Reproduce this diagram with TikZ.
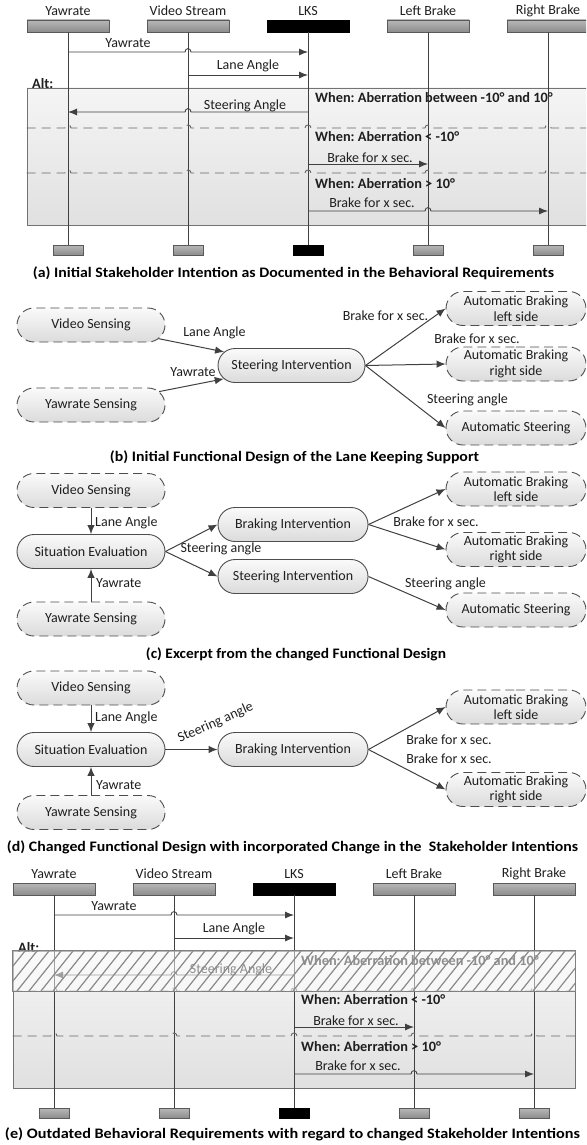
\documentclass[tikz,border=0pt]{standalone}
\usepackage{fontspec}
\setmainfont{Carlito}
\frenchspacing
\usetikzlibrary{arrows.meta,shapes.misc}

\definecolor{ink}{HTML}{1F1F1F}
\definecolor{wire}{HTML}{404040}
\definecolor{edge}{HTML}{4D4D4D}

% caption set to a given width
\newcommand\capline[2]{\resizebox{#1}{\height}{#2}}

% sequence diagram: actors, alt frame with three cases, messages
\newcommand\seqdiagram[1]{%
  \node[altbox, minimum width=562pt, minimum height=137pt] (#1alt) at (308,156.5) {};
  \node[boldtxt, anchor=base west] (#1altlab) at (32,89) {Alt:};
  \foreach \i/\x/\lab/\sty in {1/68/Yawrate/hdr,2/188/Video Stream/hdr,3/308/LKS/hdrk,4/428/Left Brake/hdr,5/548/Right Brake/hdr}{%
    \node[\sty] (#1hd\i) at (\x,26) {};
    \node[txt] (#1lb\i) at (\x,11) {\lab};
    \node[\sty, minimum width=30pt, minimum height=10pt] (#1ft\i) at (\x,250) {};
    \draw[life] (#1hd\i) -- (#1ft\i);
  }
  % messages
  \draw[msg] (#1hd1.south |- 0,52) -- (185,52) .. controls (185,47.5) and (191,47.5) .. (191,52) -- (#1hd3.south |- 0,52);
  \node[txt] (#1m1) at (128,43) {Yawrate};
  \draw[msg] (#1hd2.south |- 0,75) -- (#1hd3.south |- 0,75);
  \node[txt] (#1m2) at (248,66) {Lane Angle};
  \draw[msg] (#1hd3.south |- 0,112) -- (191,112) .. controls (191,107.5) and (185,107.5) .. (185,112) -- (#1hd1.south |- 0,112);
  \node[txt, anchor=base] (#1m3) at (245,110) {Steering Angle};
  \node[boldtxt, anchor=west] (#1c1) at (315,98) {When: Aberration between -10° and 10°};
  % case separators
  \foreach \yy in {128,173}{%
    \draw[sep] (#1alt.west |- 0,\yy) \foreach \h in {68,188,308,428,548}{ -- (\h-3,\yy) .. controls (\h-3,\yy-4) and (\h+3,\yy-4) .. (\h+3,\yy)} -- (#1alt.east |- 0,\yy);
  }
  \node[boldtxt, anchor=west] (#1c2) at (315,137) {When: Aberration < -10°};
  \draw[msg] (#1hd3.south |- 0,164) -- (#1hd4.south |- 0,164);
  \node[txt] (#1m4) at (370,158) {Brake for x sec.};
  \node[boldtxt, anchor=west] (#1c3) at (315,184) {When: Aberration > 10°};
  \draw[msg] (#1hd3.south |- 0,211) -- (425,211) .. controls (425,206.5) and (431,206.5) .. (431,211) -- (#1hd5.south |- 0,211);
  \node[txt] (#1m5) at (372,203) {Brake for x sec.};
}

\begin{document}
\begin{tikzpicture}[x=1pt, y=-1pt,
  font=\fontsize{14}{15.5}\selectfont, text=ink,
  txt/.style={inner sep=0pt},
  boldtxt/.style={inner sep=0pt, font=\fontsize{14.3}{15.5}\selectfont\bfseries},
  captxt/.style={inner sep=0pt, font=\fontsize{14.5}{16}\selectfont\bfseries, text=black},
  hdr/.style={rectangle, draw=black!65, top color=black!28, bottom color=black!45, minimum width=82pt, minimum height=12pt, inner sep=0pt, line width=0.8pt},
  hdrk/.style={rectangle, draw=black, fill=black, minimum width=82pt, minimum height=12pt, inner sep=0pt},
  altbox/.style={rectangle, draw=black!55, top color=black!4, bottom color=black!12, line width=0.9pt, inner sep=0pt},
  life/.style={draw=wire, line width=0.9pt},
  msg/.style={draw=wire, line width=0.9pt, -{Latex[length=9pt,width=7pt]}},
  arr/.style={draw=wire, line width=1pt, -{Latex[length=9pt,width=7.5pt]}},
  sep/.style={draw=black!60, line width=0.9pt, dash pattern=on 9pt off 6pt},
  fbox/.style={rounded rectangle, rounded rectangle arc length=180, draw=edge, top color=black!2, bottom color=black!14, minimum height=34pt, inner sep=0pt, line width=0.9pt},
  dbox/.style={fbox, dash pattern=on 9pt off 5pt},
  intxt/.style={align=center, inner sep=0pt, font=\fontsize{14}{15.5}\selectfont},
  hatch/.style={draw=black!45, line width=1.2pt}
]
\useasboundingbox (0,0) rectangle (586,1145);
\clip (0,0) rectangle (586,1145);

% ---------- (a) behavioural requirements ----------
\seqdiagram{a}
\node[captxt] (capa) at (293.5,273) {\capline{521pt}{(a) Initial Stakeholder Intention as Documented in the Behavioral Requirements}};

% ---------- (b) initial functional design ----------
\node[dbox, minimum width=148pt, label={[intxt]center:Video Sensing}] (bVS) at (91,325) {};
\node[dbox, minimum width=148pt, label={[intxt]center:Yawrate Sensing}] (bYS) at (91,405) {};
\node[fbox, minimum width=147pt, label={[intxt]center:Steering Intervention}] (bSI) at (291.5,365.5) {};
\node[dbox, minimum width=140pt, label={[intxt]center:Automatic Braking\\left side}] (bABL) at (516,308.5) {};
\node[dbox, minimum width=140pt, label={[intxt]center:Automatic Braking\\right side}] (bABR) at (516,364) {};
\node[dbox, minimum width=140pt, label={[intxt]center:Automatic Steering}] (bAS) at (516,428) {};
\draw[arr] (bVS) -- (bSI);
\draw[arr] (bYS) -- (bSI);
\draw[arr] (bSI.east) -- (bABL.west);
\draw[arr] (bSI.east) -- (bABR.west);
\draw[arr] (bSI.east) -- (bAS.west);
\node[txt] (bLA) at (214.5,333) {Lane Angle};
\node[txt] (bYW) at (193,372) {Yawrate};
\node[txt] (bBR1) at (385.5,316) {Brake for x sec.};
\node[txt] (bBR2) at (477,339) {Brake for x sec.};
\node[txt] (bSA) at (467.5,400) {Steering angle};
\node[captxt] (capb) at (294.5,457) {\capline{369pt}{(b) Initial Functional Design of the Lane Keeping Support}};

% ---------- (c) changed functional design ----------
\node[dbox, minimum width=148pt, label={[intxt]center:Video Sensing}] (cVS) at (91,490.5) {};
\node[fbox, minimum width=148pt, label={[intxt]center:Situation Evaluation}] (cSE) at (91,551.5) {};
\node[dbox, minimum width=148pt, label={[intxt]center:Yawrate Sensing}] (cYS) at (91,619) {};
\node[fbox, minimum width=150pt, label={[intxt]center:Braking Intervention}] (cBI) at (293,524.5) {};
\node[fbox, minimum width=150pt, label={[intxt]center:Steering Intervention}] (cSI) at (293,576.5) {};
\node[dbox, minimum width=140pt, label={[intxt]center:Automatic Braking\\left side}] (cABL) at (516,489) {};
\node[dbox, minimum width=140pt, label={[intxt]center:Automatic Braking\\right side}] (cABR) at (516,549.5) {};
\node[dbox, minimum width=140pt, label={[intxt]center:Automatic Steering}] (cAS) at (516,610) {};
\draw[arr] (cVS) -- (cSE);
\draw[arr] (cYS) -- (cSE);
\draw[arr] (cSE.east) -- (cBI.west);
\draw[arr] (cSE.east) -- (cSI.west);
\draw[arr] (cBI.east) -- (cABL.west);
\draw[arr] (cBI.east) -- (cABR.west);
\draw[arr] (cSI.east) -- (cAS.west);
\node[txt, anchor=west] (cLA) at (95,523) {Lane Angle};
\node[txt, anchor=west] (cYW) at (96,583) {Yawrate};
\node[txt] (cSA) at (221,549) {Steering angle};
\node[txt] (cBR) at (436,522) {Brake for x sec.};
\node[txt] (cSA2) at (445.5,584) {Steering angle};
\node[captxt] (capc) at (296,654) {\capline{300pt}{(c) Excerpt from the changed Functional Design}};

% ---------- (d) functional design with the change ----------
\node[dbox, minimum width=148pt, label={[intxt]center:Video Sensing}] (dVS) at (91,688) {};
\node[fbox, minimum width=148pt, label={[intxt]center:Situation Evaluation}] (dSE) at (91,749.5) {};
\node[dbox, minimum width=148pt, label={[intxt]center:Yawrate Sensing}] (dYS) at (91,812.5) {};
\node[fbox, minimum width=150pt, label={[intxt]center:Braking Intervention}] (dBI) at (293,749.5) {};
\node[dbox, minimum width=140pt, label={[intxt]center:Automatic Braking\\left side}] (dABL) at (516,707) {};
\node[dbox, minimum width=140pt, label={[intxt]center:Automatic Braking\\right side}] (dABR) at (516,789.5) {};
\draw[arr] (dVS) -- (dSE);
\draw[arr] (dYS) -- (dSE);
\draw[arr] (dSE.east) -- (dBI.west);
\draw[arr] (dBI.east) -- (dABL.west);
\draw[arr] (dBI.east) -- (dABR.west);
\node[txt, anchor=west] (dLA) at (95,718) {Lane Angle};
\node[txt, anchor=west] (dYW) at (96,785) {Yawrate};
\node[txt, rotate=24, anchor=south west] (dSA) at (181,745) {Steering angle};
\node[txt] (dBR1) at (449,740) {Brake for x sec.};
\node[txt] (dBR2) at (449,759) {Brake for x sec.};
\node[captxt] (capd) at (292.5,847) {\capline{571pt}{(d) Changed Functional Design with incorporated Change in the\ \ Stakeholder Intentions}};

% ---------- (e) outdated behavioural requirements ----------
\begin{scope}[shift={(-14,863)}]
  \seqdiagram{e}
  % first case no longer valid: faded and hatched
  \fill[white, opacity=0.5] (ealt.north west) rectangle (ealt.east |- 0,128);
  \begin{scope}
    \clip (ealt.north west) rectangle (ealt.east |- 0,128);
    \foreach \k in {0,...,52} \draw[hatch] (-5+\k*12,128) -- (27+\k*12,88);
  \end{scope}
  \draw[draw=black!50, line width=0.9pt] (ealt.north west) rectangle (ealt.east |- 0,128);
\end{scope}
\node[captxt] (cape) at (292.5,1134) {\capline{575pt}{(e) Outdated Behavioral Requirements with regard to changed Stakeholder Intentions}};
\end{tikzpicture}
\end{document}
